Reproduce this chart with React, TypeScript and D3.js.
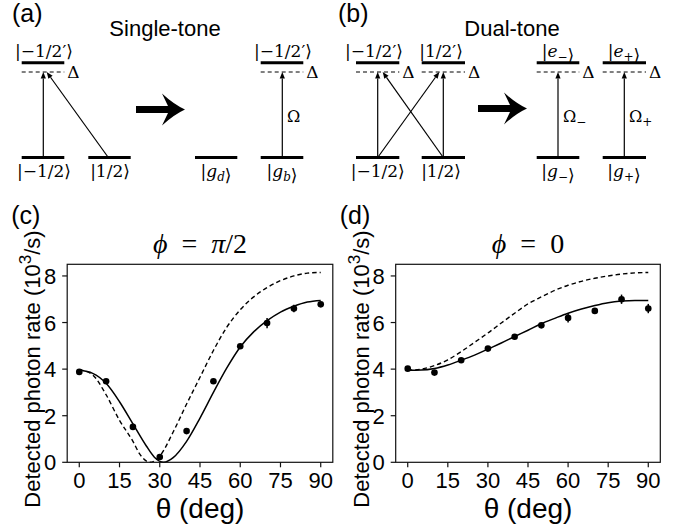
import * as d3 from "d3";

// measured points (10^3 photons/s) vs theta (deg)
const THETA_DATA = [0, 10, 20, 30, 40, 50, 60, 70, 80, 90];
const RATE_HALF_PI = [3.88, 3.48, 1.52, 0.23, 1.34, 3.48, 4.98, 5.98, 6.6, 6.78];
const ERR_HALF_PI = [0.06, 0.06, 0.08, 0.07, 0.08, 0.08, 0.1, 0.22, 0.16, 0.1];
const RATE_ZERO = [4.02, 3.85, 4.38, 4.88, 5.39, 5.88, 6.2, 6.5, 7.0, 6.6];
const ERR_ZERO = [0.06, 0.06, 0.08, 0.08, 0.1, 0.1, 0.2, 0.12, 0.2, 0.2];

// theory curves
const THETA_FIT_HALF_PI = [0, 5, 10, 15, 20, 25, 28, 31.5, 35, 40, 45, 50, 55, 60, 65, 70, 75, 80, 85, 90];
const FIT_HALF_PI = [3.95, 3.82, 3.39, 2.6, 1.65, 0.7, 0.22, 0, 0.2, 0.9, 1.9, 3.0, 4.05, 4.95, 5.6, 6.08, 6.45, 6.7, 6.88, 6.95];
const THETA_IDEAL_HALF_PI = [0, 5, 10, 15, 20, 22.5, 26.5, 30, 35, 40, 45, 50, 55, 60, 65, 70, 75, 80, 85, 90];
const IDEAL_HALF_PI = [3.98, 3.75, 2.9, 1.8, 0.9, 0.36, 0, 0.27, 1.3, 2.5, 3.65, 4.8, 5.8, 6.55, 7.1, 7.5, 7.8, 8.0, 8.12, 8.15];

const THETA_CURVE = [0, 5, 10, 15, 20, 25, 30, 35, 40, 45, 50, 55, 60, 65, 70, 75, 80, 85, 90];
const FIT_ZERO = [3.95, 3.96, 4.03, 4.18, 4.38, 4.6, 4.86, 5.12, 5.4, 5.67, 5.95, 6.18, 6.4, 6.58, 6.73, 6.85, 6.92, 6.95, 6.95];
const IDEAL_ZERO = [3.95, 4.0, 4.15, 4.4, 4.75, 5.15, 5.55, 5.98, 6.4, 6.8, 7.1, 7.38, 7.6, 7.77, 7.9, 8.0, 8.08, 8.13, 8.15];

const X_TICKS = [0, 15, 30, 45, 60, 75, 90];
const Y_TICKS = [0, 2, 4, 6, 8];

const SANS = "'Liberation Sans', Arial, sans-serif";
const SERIF = "'DejaVu Serif', 'Liberation Serif', serif";
const TITLE_SERIF = "'Liberation Serif', 'DejaVu Serif', serif";

const TOP = 264.3;
const BOTTOM = 462.3;

type Pt = [number, number];

function RatePanel({ left, right, tag, title, rate, err, fitTheta, fit, idealTheta, ideal }: any) {
  const x = d3.scaleLinear().domain([-4.5, 94.5]).range([left, right]);
  const y = d3.scaleLinear().domain([0, 8.5]).range([BOTTOM, TOP]);
  const line = d3
    .line<Pt>()
    .x((d) => x(d[0]))
    .y((d) => y(d[1]))
    .curve(d3.curveMonotoneX);
  const fitPath = line(fitTheta.map((t: number, i: number) => [t, fit[i]] as Pt));
  const idealPath = line(idealTheta.map((t: number, i: number) => [t, ideal[i]] as Pt));
  const cx = (left + right) / 2;

  return (
    <g>
      <text x={left - 56} y={224} fontFamily={SANS} fontSize={25}>{tag}</text>
      <text x={cx} y={253} fontFamily={TITLE_SERIF} fontSize={28} textAnchor="middle">{title}</text>

      <path d={idealPath || ""} fill="none" stroke="#000" strokeWidth={1.4} strokeDasharray="4.5,3" />
      <path d={fitPath || ""} fill="none" stroke="#000" strokeWidth={1.5} />

      {THETA_DATA.map((t, i) => (
        <g key={t}>
          <line x1={x(t)} x2={x(t)} y1={y(rate[i] - err[i])} y2={y(rate[i] + err[i])} stroke="#000" strokeWidth={1.5} />
          <circle cx={x(t)} cy={y(rate[i])} r={3.3} fill="#000" />
        </g>
      ))}

      <rect x={left} y={TOP} width={right - left} height={BOTTOM - TOP} fill="none" stroke="#111" strokeWidth={1.2} />

      {X_TICKS.map((t) => (
        <g key={t}>
          <line x1={x(t)} x2={x(t)} y1={BOTTOM} y2={BOTTOM + 5} stroke="#111" strokeWidth={1.2} />
          <text x={x(t)} y={488} fontFamily={SANS} fontSize={22} textAnchor="middle">{t}</text>
        </g>
      ))}
      {Y_TICKS.map((v) => (
        <g key={v}>
          <line x1={left - 5} x2={left} y1={y(v)} y2={y(v)} stroke="#111" strokeWidth={1.2} />
          <text x={left - 11} y={y(v) + 8} fontFamily={SANS} fontSize={22} textAnchor="end">{v}</text>
        </g>
      ))}

      <text x={cx} y={518} fontFamily={SANS} fontSize={28} textAnchor="middle">θ (deg)</text>
      <text transform={`translate(${left - 27},369) rotate(-90)`} fontFamily={SANS} fontSize={22} textAnchor="middle">
        Detected photon rate (10<tspan dy={-9} fontSize={17}>3</tspan>
        <tspan dy={9}>/s)</tspan>
      </text>
    </g>
  );
}

// ---- level diagrams ----
const LV_TOP = 62.8;
const LV_DASH = 72;
const LV_BOT = 157.5;

function Level({ x1, x2, y }: any) {
  return <line x1={x1} x2={x2} y1={y} y2={y} stroke="#000" strokeWidth={3} />;
}

function Detuned({ x1, x2 }: any) {
  return (
    <g>
      <Level x1={x1} x2={x2} y={LV_TOP} />
      <line x1={x1} x2={x2} y1={LV_DASH} y2={LV_DASH} stroke="#000" strokeWidth={1} strokeDasharray="4,3" />
      <text x={x2 + 3} y={77.5} fontFamily={SERIF} fontSize={17}>Δ</text>
    </g>
  );
}

function Arrow({ x1, y1, x2, y2 }: any) {
  const a = Math.atan2(y2 - y1, x2 - x1);
  const len = 6.5;
  const hw = 2.6;
  const bx = x2 - len * Math.cos(a);
  const by = y2 - len * Math.sin(a);
  const nx = -Math.sin(a) * hw;
  const ny = Math.cos(a) * hw;
  return (
    <g>
      <line x1={x1} y1={y1} x2={bx} y2={by} stroke="#000" strokeWidth={1.2} />
      <polygon points={`${x2},${y2} ${bx + nx},${by + ny} ${bx - nx},${by - ny}`} fill="#000" />
    </g>
  );
}

function BigArrow({ x0, x1, y }: any) {
  const h = x1 - 23;
  const d = `M${x0},${y - 3.5} L${h + 6},${y - 3.5} L${h},${y - 16} Q${h + 12},${y - 5} ${x1},${y}
    Q${h + 12},${y + 5} ${h},${y + 16} L${h + 6},${y + 3.5} L${x0},${y + 3.5} Z`;
  return <path d={d} fill="#000" />;
}

function Ket({ x, y, children }: any) {
  return (
    <text x={x} y={y} fontFamily={SERIF} fontSize={17} textAnchor="middle">
      |{children}⟩
    </text>
  );
}

function Sub({ children }: any) {
  return (
    <>
      <tspan dy={4} fontSize={12} fontStyle="italic">{children}</tspan>
      <tspan dy={-4}></tspan>
    </>
  );
}

function Diagrams() {
  return (
    <g>
      <text x={12} y={21.5} fontFamily={SANS} fontSize={25}>(a)</text>
      <text x={165} y={36} fontFamily={SANS} fontSize={22} textAnchor="middle">Single-tone</text>
      <text x={338} y={21.5} fontFamily={SANS} fontSize={25}>(b)</text>
      <text x={512} y={36} fontFamily={SANS} fontSize={22} textAnchor="middle">Dual-tone</text>

      {/* (a) left */}
      <Detuned x1={21.7} x2={64.3} />
      <Level x1={21.7} x2={64.3} y={LV_BOT} />
      <Level x1={88.3} x2={130.7} y={LV_BOT} />
      <Arrow x1={43.3} y1={LV_BOT} x2={43.3} y2={LV_DASH} />
      <Arrow x1={108.3} y1={LV_BOT} x2={46.7} y2={LV_DASH} />
      <Ket x={44} y={57}>−1/2′</Ket>
      <Ket x={44} y={177}>−1/2</Ket>
      <Ket x={110} y={177}>1/2</Ket>

      <BigArrow x0={136} x1={185} y={109.5} />

      {/* (a) right */}
      <Level x1={195} x2={237.3} y={LV_BOT} />
      <Detuned x1={260.7} x2={303.3} />
      <Level x1={260.7} x2={303.3} y={LV_BOT} />
      <Arrow x1={282.3} y1={LV_BOT} x2={282.3} y2={LV_DASH} />
      <Ket x={283} y={57}>−1/2′</Ket>
      <Ket x={216} y={177}><tspan fontStyle="italic">g</tspan><Sub>d</Sub></Ket>
      <Ket x={282} y={177}><tspan fontStyle="italic">g</tspan><Sub>b</Sub></Ket>
      <text x={287} y={121.7} fontFamily={SERIF} fontSize={16}>Ω</text>

      {/* (b) left */}
      <Detuned x1={356} x2={399.3} />
      <Detuned x1={421.7} x2={465} />
      <Level x1={356} x2={399.3} y={LV_BOT} />
      <Level x1={421.7} x2={465} y={LV_BOT} />
      <Arrow x1={377.7} y1={LV_BOT} x2={377.7} y2={LV_DASH} />
      <Arrow x1={443.3} y1={LV_BOT} x2={443.3} y2={LV_DASH} />
      <Arrow x1={377.7} y1={LV_BOT} x2={439.3} y2={LV_DASH} />
      <Arrow x1={443.3} y1={LV_BOT} x2={382.7} y2={LV_DASH} />
      <Ket x={374} y={57}>−1/2′</Ket>
      <Ket x={441} y={57}>1/2′</Ket>
      <Ket x={377.7} y={177}>−1/2</Ket>
      <Ket x={441} y={177}>1/2</Ket>

      <BigArrow x0={478} x1={527} y={108.5} />

      {/* (b) right */}
      <Detuned x1={536.7} x2={579.3} />
      <Detuned x1={602.7} x2={646} />
      <Level x1={536.7} x2={579.3} y={LV_BOT} />
      <Level x1={602.7} x2={646} y={LV_BOT} />
      <Arrow x1={558} y1={LV_BOT} x2={558} y2={LV_DASH} />
      <Arrow x1={624.3} y1={LV_BOT} x2={624.3} y2={LV_DASH} />
      <Ket x={558} y={57}><tspan fontStyle="italic">e</tspan><Sub>−</Sub></Ket>
      <Ket x={624} y={57}><tspan fontStyle="italic">e</tspan><Sub>+</Sub></Ket>
      <Ket x={558} y={177}><tspan fontStyle="italic">g</tspan><Sub>−</Sub></Ket>
      <Ket x={624} y={177}><tspan fontStyle="italic">g</tspan><Sub>+</Sub></Ket>
      <text x={563} y={121.7} fontFamily={SERIF} fontSize={16}>Ω<tspan dy={4} fontSize={12}>−</tspan></text>
      <text x={629} y={121.7} fontFamily={SERIF} fontSize={16}>Ω<tspan dy={4} fontSize={12}>+</tspan></text>
    </g>
  );
}

export default function App() {
  return (
    <svg width={696} height={525} style={{ position: "absolute", left: 0, top: 0, background: "#fff" }}>
      <Diagrams />
      <RatePanel
        left={67.2}
        right={332.8}
        tag="(c)"
        title={<><tspan fontStyle="italic">ϕ</tspan>{"\u2002=\u2002"}<tspan fontStyle="italic">π</tspan>/2</>}
        rate={RATE_HALF_PI}
        err={ERR_HALF_PI}
        fitTheta={THETA_FIT_HALF_PI}
        fit={FIT_HALF_PI}
        idealTheta={THETA_IDEAL_HALF_PI}
        ideal={IDEAL_HALF_PI}
      />
      <RatePanel
        left={395.7}
        right={660.3}
        tag="(d)"
        title={<><tspan fontStyle="italic">ϕ</tspan>{"\u2002=\u2002"}0</>}
        rate={RATE_ZERO}
        err={ERR_ZERO}
        fitTheta={THETA_CURVE}
        fit={FIT_ZERO}
        idealTheta={THETA_CURVE}
        ideal={IDEAL_ZERO}
      />
    </svg>
  );
}
